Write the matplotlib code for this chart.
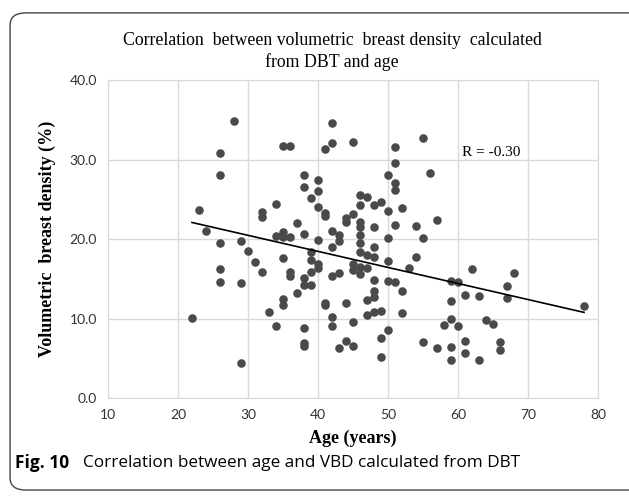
import numpy as np
import matplotlib.pyplot as plt
from matplotlib.patches import FancyBboxPatch

# age (years) and volumetric breast density (%)
age = [28, 26, 26, 23, 35, 36, 34, 32, 32, 37,
       38, 38, 39, 40, 40, 40, 41, 41, 42, 42,
       41, 45, 55, 51, 51, 56, 50, 51, 51, 46,
       47, 46, 48, 49, 50, 52, 45, 44, 44, 57,
       46, 46, 48, 51, 54, 42, 46, 46, 46, 55,
       38, 43, 43, 40, 42, 39, 40, 40, 39, 39,
       38, 38, 39, 37, 45, 46, 46, 45, 42, 43,
       47, 47, 48, 48, 50, 50, 53, 54, 48, 50,
       51, 52, 48, 48, 47, 41, 41, 44, 42, 42,
       38, 38, 38, 45, 47, 48, 49, 52, 50, 49,
       49, 43, 44, 45, 55, 57, 59, 60, 59, 61,
       59, 58, 60, 59, 59, 61, 61, 62, 68, 67,
       67, 63, 78, 64, 65, 63, 66, 66, 24, 26,
       29, 30, 31, 32, 26, 26, 29, 22, 29, 34,
       35, 36, 35, 35, 36, 36, 35, 35, 33, 34]
vbd = [34.9, 30.8, 28.1, 23.6, 31.7, 31.7, 24.4, 23.4, 22.8, 22.0,
       28.1, 26.5, 25.2, 27.4, 26.0, 24.0, 23.3, 22.9, 34.6, 32.1,
       31.3, 32.2, 32.7, 31.6, 29.6, 28.3, 28.0, 27.1, 26.2, 25.5,
       25.3, 24.3, 24.3, 24.6, 23.5, 23.9, 23.1, 22.7, 22.1, 22.4,
       22.2, 21.5, 21.5, 21.8, 21.6, 21.0, 20.5, 19.5, 18.4, 20.1,
       20.6, 20.5, 19.7, 19.9, 19.0, 18.4, 16.9, 16.3, 17.4, 15.9,
       15.1, 14.2, 14.2, 13.2, 16.1, 16.5, 15.6, 16.9, 15.3, 15.7,
       16.3, 18.0, 17.8, 19.0, 20.1, 17.2, 16.3, 17.7, 14.8, 14.7,
       14.6, 13.5, 13.4, 12.7, 12.3, 12.0, 11.7, 11.9, 10.2, 9.0,
       8.8, 6.9, 6.6, 9.5, 10.4, 10.8, 10.9, 10.7, 8.6, 7.5,
       5.1, 6.3, 7.2, 6.5, 7.0, 6.3, 14.7, 14.6, 12.2, 13.0,
       10.0, 9.2, 9.0, 6.4, 4.8, 7.2, 5.7, 16.2, 15.7, 14.1,
       12.6, 12.8, 11.6, 9.8, 9.3, 4.8, 7.0, 6.0, 21.0, 19.5,
       19.8, 18.5, 17.1, 15.8, 16.2, 14.6, 14.5, 10.1, 4.4, 20.4,
       20.9, 20.2, 20.3, 17.6, 15.3, 15.9, 12.5, 11.7, 10.8, 9.1]

x_ticks = [10, 20, 30, 40, 50, 60, 70, 80]
y_ticks = [0, 10, 20, 30, 40]

serif = "Liberation Serif"
sans = "Lato"

fig = plt.figure(figsize=(6.29, 4.96), dpi=100)
ax = fig.add_axes([0.1717, 0.1976, 0.779, 0.641])

ax.scatter(age, vbd, s=38, color="#4a4a4a", zorder=3, linewidths=0)

# linear trend line
slope, intercept = np.polyfit(age, vbd, 1)
xl = np.array([min(age), max(age)])
ax.plot(xl, slope * xl + intercept, color="black", lw=1.2, zorder=4)

ax.text(60.6, 30.9, "R = -0.30", family=serif, fontsize=11, va="center", ha="left")

ax.set_xlim(10, 80)
ax.set_ylim(0, 40)
ax.set_xticks(x_ticks)
ax.set_yticks(y_ticks)
ax.set_yticklabels([f"{v:.1f}" for v in y_ticks])
ax.grid(True, color="#d9d9d9", lw=1)
ax.set_axisbelow(True)
for sp in ax.spines.values():
    sp.set_color("#d9d9d9")
ax.tick_params(length=0, labelsize=10, colors="#333333", pad=8)
for lab in ax.get_xticklabels() + ax.get_yticklabels():
    lab.set_family(sans)

ax.set_xlabel("Age (years)", family=serif, fontsize=13, fontweight="bold", labelpad=6)
ax.set_ylabel("Volumetric  breast density (%)", family=serif, fontsize=13,
              fontweight="bold", labelpad=10)

fig.text(0.528, 0.918, "Correlation  between volumetric  breast density  calculated",
         family=serif, fontsize=12.8, ha="center", va="center")
fig.text(0.528, 0.874, "from DBT and age", family=serif, fontsize=12.8,
         ha="center", va="center")

# caption
fig.text(0.024, 0.066, "Fig. 10", family="Open Sans", fontsize=12.5,
         fontweight="bold", va="center")
fig.text(0.132, 0.066, "Correlation between age and VBD calculated from DBT",
         family="Open Sans", fontsize=12.3, va="center")

# rounded frame around the figure
frame = FancyBboxPatch((0.016, 0.012), 1.2, 0.962, transform=fig.transFigure,
                       boxstyle="round,pad=0,rounding_size=0.025",
                       fill=False, ec="#444444", lw=1.0)
fig.patches.append(frame)

fig.savefig("out.png", dpi=100)
